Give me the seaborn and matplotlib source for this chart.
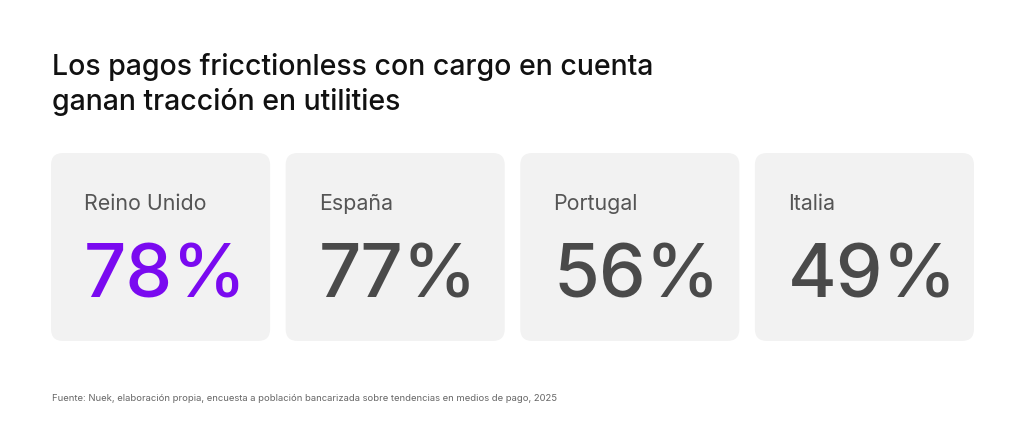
import matplotlib
matplotlib.use("Agg")
import matplotlib.pyplot as plt
import seaborn as sns
from matplotlib.patches import FancyBboxPatch

# data
countries = ["Reino Unido", "España", "Portugal", "Italia"]
shares = [78, 77, 56, 49]
highlight = "Reino Unido"

title = "Los pagos fricctionless con cargo en cuenta\nganan tracción en utilities"
source = ("Fuente: Nuek, elaboración propia, encuesta a población bancarizada "
          "sobre tendencias en medios de pago, 2025")

sns.set_theme(style="white")
plt.rcParams['font.family'] = ['Inter', 'DejaVu Sans']

purple = "#7a0af0"
dark = "#4a4a4a"
card_bg = "#f2f2f2"

fig = plt.figure(figsize=(10.24, 4.48), dpi=100)
fig.patch.set_facecolor("white")

# axes covering the card strip
W, H = 1024, 448
left_px, right_px = 43.25, 981.75
top_px, bot_px = 153, 341
ax = fig.add_axes([left_px / W, (H - bot_px) / H,
                   (right_px - left_px) / W, (bot_px - top_px) / H])
ax.set_xlim(-0.5, len(countries) - 0.5)
ax.set_ylim(0, 1)
ax.axis("off")

card_w = 219 / 234.5
rx = 12 / 234.5
ry = 12 / 188
for i, (name, val) in enumerate(zip(countries, shares)):
    box = FancyBboxPatch((i - card_w / 2, 0), card_w, 1,
                         boxstyle=f"round,pad=0,rounding_size={rx}",
                         mutation_aspect=ry / rx,
                         facecolor=card_bg, edgecolor="none")
    ax.add_patch(box)
    x0 = i - card_w / 2 + 33 / 234.5
    ax.text(x0, 0.697, name, fontsize=15.4, color="#555555",
            ha="left", va="baseline")
    ax.text(x0, 0.234, f"{val}%", fontsize=53.5, fontweight="medium",
            color=purple if name == highlight else dark,
            ha="left", va="baseline")

fig.text(52 / W, 1 - 110 / H, title, fontsize=20.5, fontweight="medium",
         color="#111111", ha="left", va="baseline", linespacing=1.32)
fig.text(52 / W, 1 - 401 / H, source, fontsize=6.8, color="#666666",
         ha="left", va="baseline")

fig.savefig("out.png", dpi=100, facecolor="white")
